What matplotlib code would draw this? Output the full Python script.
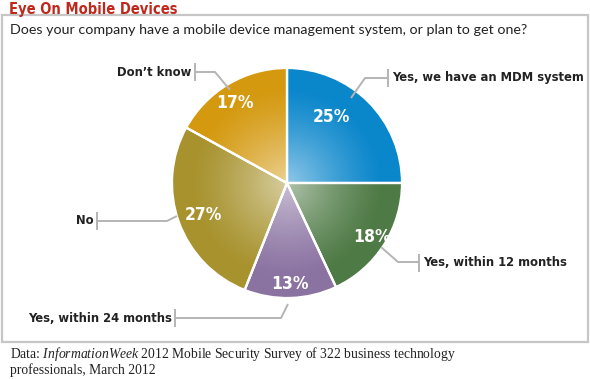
import numpy as np
import matplotlib
matplotlib.use('Agg')
import matplotlib.pyplot as plt
from matplotlib.patches import Rectangle, Circle

plt.rcParams['mathtext.fontset'] = 'custom'
plt.rcParams['mathtext.rm'] = 'Liberation Serif'
plt.rcParams['mathtext.it'] = 'Liberation Serif:italic'

# data
labels = ['Yes, we have an MDM system', 'Yes, within 12 months', 'Yes, within 24 months',
          'No', 'Don\u2019t know']
values = [25, 18, 13, 27, 17]
colors = ['#0a86cb', '#4e7a45', '#8a72a1', '#a7922d', '#d4990f']

title = 'Eye On Mobile Devices'
subtitle = 'Does your company have a mobile device management system, or plan to get one?'
source = (r'Data: $\it{InformationWeek}$ 2012 Mobile Security Survey of 322 business technology'
          '\nprofessionals, March 2012')

COND = dict(family='DejaVu Sans', stretch='condensed', fontweight='bold')
W, H = 590, 379
cx, cy, R = 287, 183, 115

fig = plt.figure(figsize=(W/100, H/100), dpi=100)
ax = fig.add_axes([0, 0, 1, 1])

wedges, texts, autotexts = ax.pie(
    values, colors=colors, startangle=-90, counterclock=True,
    center=(cx, cy), radius=R, autopct='%d%%', pctdistance=0.88,
    wedgeprops=dict(edgecolor='white', linewidth=1.6),
    textprops=dict(color='white', fontsize=12.5, **COND))
ax.axis('off')

# radial highlight toward the centre
n = 300
g = np.linspace(-1, 1, n)
xx, yy = np.meshgrid(g, g)
rr = np.sqrt(xx**2 + yy**2)
a = 0.55 * np.clip(1 - rr / 0.85, 0, 1) ** 1.3
img = np.zeros((n, n, 4)); img[..., :3] = 1; img[..., 3] = a
im = ax.imshow(img, extent=(cx-R, cx+R, cy+R, cy-R), zorder=1.5, interpolation='bilinear')
im.set_clip_path(Circle((cx, cy), R, transform=ax.transData))
ax.set_xlim(0, W); ax.set_ylim(H, 0); ax.set_aspect('auto')
for w in wedges:
    w.set_zorder(1)
for t in autotexts:
    t.set_zorder(3)

# separator lines on top of the highlight
ang = -90
for v in values:
    t = np.deg2rad(ang)
    ax.plot([cx, cx + R*np.cos(t)], [cy, cy + R*np.sin(t)], color='white', lw=1.6, zorder=2)
    ang += v * 3.6

# some labels sit further in on the original
autotexts[0].set_position((331, 117))
autotexts[3].set_position((203, 215))
autotexts[4].set_position((235, 103))

# leader lines + labels
lc = '#b4b4b4'
lead = [  # (text x, text y, ha, bar x, path)
    (392, 78, 'left', 388, [(388, 78), (365, 78), (351, 98)]),
    (423, 263, 'left', 419, [(419, 262), (398, 262), (381, 247)]),
    (172, 318, 'right', 175, [(175, 318), (281, 318), (288, 304)]),
    (94, 221, 'right', 97, [(97, 221), (167, 221), (177, 216)]),
    (191, 72, 'right', 195, [(195, 72), (215, 72), (230, 90)]),
]
for lab, (tx, ty, ha, bx, path) in zip(labels, lead):
    px, py = zip(*path)
    ax.plot(px, py, color=lc, lw=1.4, zorder=2.5, solid_capstyle='butt')
    ax.plot([bx, bx], [ty-8, ty+8], color=lc, lw=1.4, zorder=2.5)
    ax.text(tx, ty, lab, ha=ha, va='center', fontsize=9.3, color='#222222', **COND)

# frame, titles, source
ax.add_patch(Rectangle((2, 15), 586, 327, fill=False, edgecolor='#c6c6c6', lw=1.6, zorder=0))
ax.text(9, 14, title, ha='left', va='baseline', fontsize=10.5, color='#c0281c', **COND)
ax.text(10, 30, subtitle, ha='left', va='center', fontsize=10.3, family='Lato', color='#222222')
ax.text(10, 345, source, ha='left', va='top', fontsize=9.8, family='Liberation Serif',
        color='#222222', linespacing=1.0)

fig.savefig('out.png', dpi=100)
